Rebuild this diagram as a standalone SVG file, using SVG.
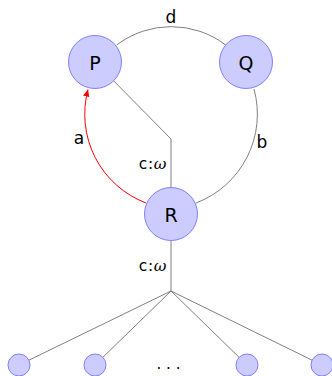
<svg xmlns="http://www.w3.org/2000/svg" width="332" height="376" viewBox="0 0 332 376">
<style>
.node{fill:#ccccff;stroke:#8080ff;stroke-width:1}
.edge{fill:none;stroke:#808080;stroke-width:1}
.red{fill:none;stroke:#ff0000;stroke-width:1}
.lbl{font-family:"DejaVu Sans",sans-serif;fill:#000}
.om{font-family:"DejaVu Serif",serif;font-style:italic}
.nl{font-family:"DejaVu Sans",sans-serif;font-size:19px;text-anchor:middle;dominant-baseline:central;fill:#000}
</style>
<defs>
<marker id="ah" markerWidth="8" markerHeight="8" refX="7" refY="4" orient="auto" markerUnits="userSpaceOnUse">
<path d="M0,0.8 L7,4 L0,7.2 Z" fill="#ff0000"/>
</marker>
</defs>
<g id="connectors">
<path class="edge" d="M116.7,45 A90,90 0 0 1 225.7,45"/>
<path class="edge" d="M254,89 A95,95 0 0 1 196,203"/>
<path class="red" d="M146,203 A95,95 0 0 1 88,89.5" marker-end="url(#ah)"/>
<path class="edge" d="M113.6,80.8 L171,139 L171,187.5"/>
<path class="edge" d="M171,240.5 L171,291"/>
<path class="edge" d="M171,291 L28.9,360.2 M171,291 L102.9,357.3 M171,291 L239.1,357.3 M171,291 L312.1,360.2"/>
<text class="lbl" x="171" y="23" font-size="17" text-anchor="middle">d</text>
<text class="lbl" x="79" y="144" font-size="17" text-anchor="middle">a</text>
<text class="lbl" x="262" y="148" font-size="17" text-anchor="middle">b</text>
<text class="lbl" x="167" y="169" font-size="15.5" text-anchor="end" letter-spacing="0.6">c:<tspan class="om">ω</tspan></text>
<text class="lbl" x="167" y="271" font-size="15.5" text-anchor="end" letter-spacing="0.6">c:<tspan class="om">ω</tspan></text>
<text class="lbl" x="168.5" y="369" font-size="15" text-anchor="middle">. . .</text>
</g>
<g id="P"><circle class="node" cx="95" cy="62" r="26.5"/><text class="nl" x="95" y="63">P</text></g>
<g id="Q"><circle class="node" cx="246" cy="62" r="26.5"/><text class="nl" x="246" y="63">Q</text></g>
<g id="R"><circle class="node" cx="171" cy="214" r="26.5"/><text class="nl" x="171" y="215">R</text></g>
<g id="L1"><circle class="node" cx="19" cy="365" r="11"/></g>
<g id="L2"><circle class="node" cx="95" cy="365" r="11"/></g>
<g id="L3"><circle class="node" cx="247" cy="365" r="11"/></g>
<g id="L4"><circle class="node" cx="322" cy="365" r="11"/></g>
</svg>
